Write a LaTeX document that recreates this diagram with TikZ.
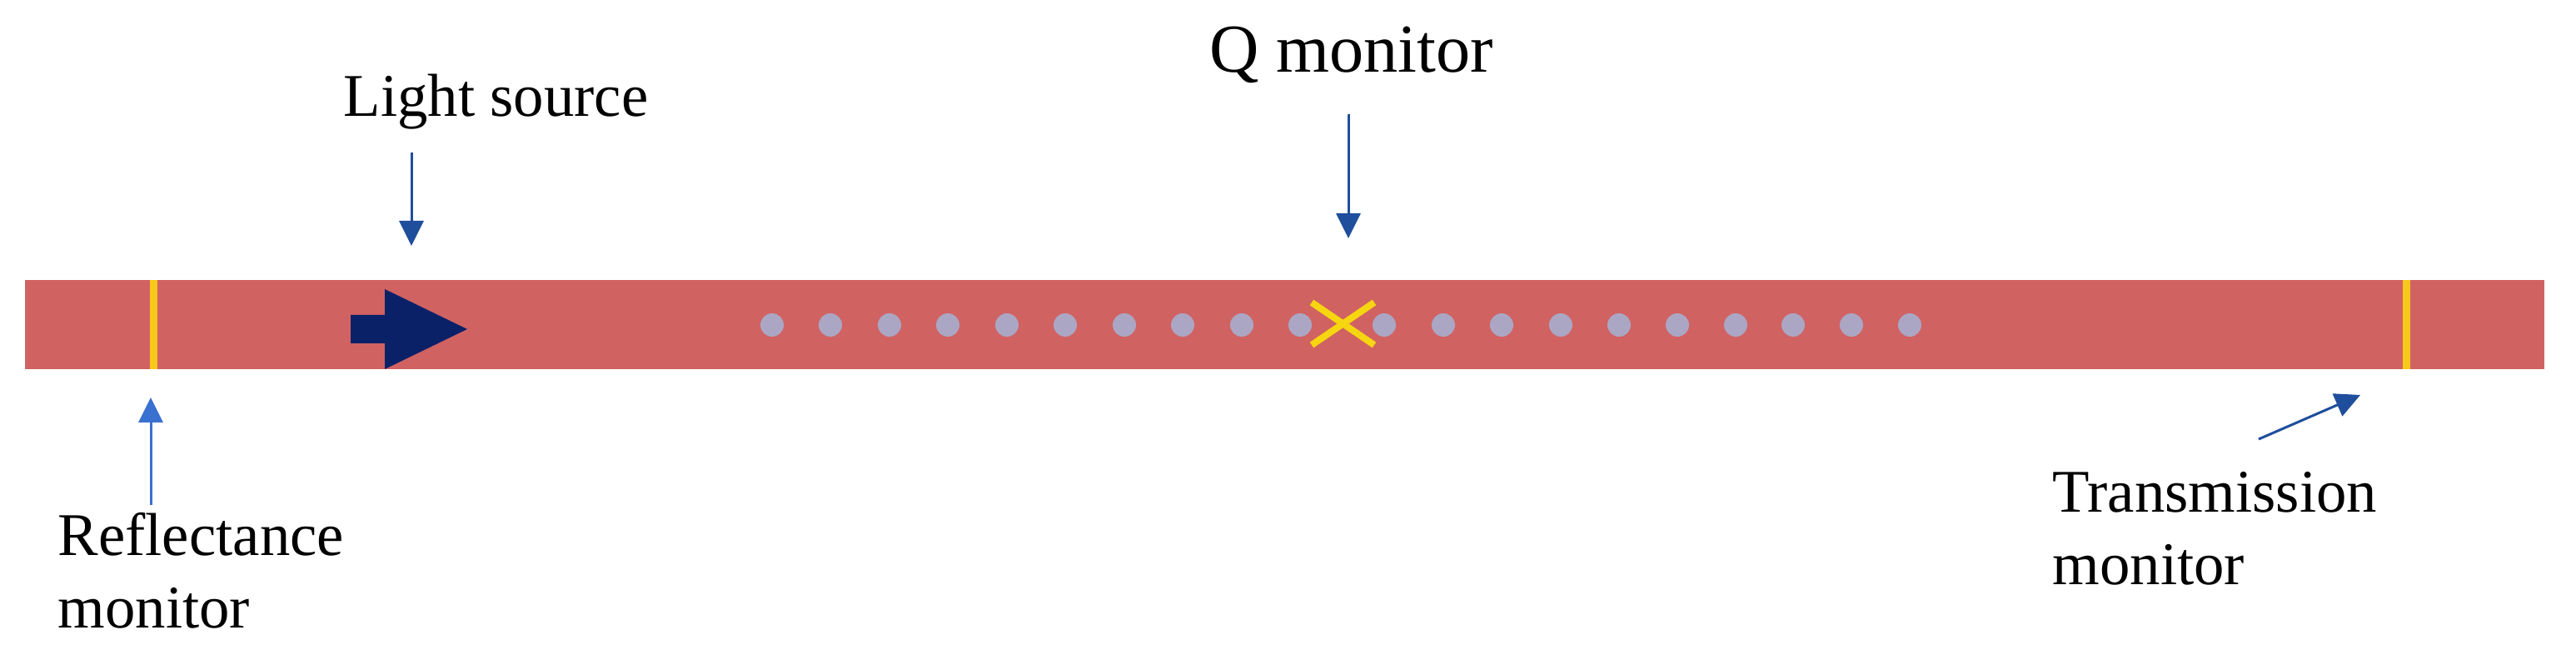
\documentclass[tikz,border=0pt]{standalone}
\usepackage{fontspec}
\setmainfont{Liberation Serif}
\usetikzlibrary{arrows.meta}
\definecolor{guidered}{HTML}{D16262}
\definecolor{monitoryellow}{HTML}{F8C91A}
\definecolor{crossyellow}{HTML}{F6D511}
\definecolor{holegrey}{HTML}{ABA6C4}
\definecolor{sourcenavy}{HTML}{0A2168}
\definecolor{pointerblue}{HTML}{1F4E9C}
\definecolor{pointerlight}{HTML}{3A70D0}
\tikzset{
	lbl/.style={inner sep=0, anchor=base west, align=left, font=\fontsize{20.7}{24.9}\selectfont},
	pointer/.style={line width=0.03cm, color=pointerblue, -{Triangle[width=0.29cm, length=0.3cm]}},
	hole/.style={fill=holegrey, draw=none},
	monitorline/.style={line width=0.09cm, color=monitoryellow},
	crossline/.style={line width=0.08cm, color=crossyellow}
}

\begin{document}
\begin{tikzpicture}
	%%%%% START %%%%%
	\useasboundingbox (0, 0) rectangle (30.93, 7.86);
	
	\fill[guidered] (0.30, 3.43) rectangle (30.55, 4.50);
	
	\draw[monitorline] (1.84, 3.43) -- (1.84, 4.50);
	\draw[monitorline] (28.89, 3.43) -- (28.89, 4.50);
	
	\fill[hole] (9.27, 3.96) circle (0.14);
	\fill[hole] (9.97, 3.96) circle (0.14);
	\fill[hole] (10.68, 3.96) circle (0.14);
	\fill[hole] (11.38, 3.96) circle (0.14);
	\fill[hole] (12.09, 3.96) circle (0.14);
	\fill[hole] (12.79, 3.96) circle (0.14);
	\fill[hole] (13.50, 3.96) circle (0.14);
	\fill[hole] (14.20, 3.96) circle (0.14);
	\fill[hole] (14.91, 3.96) circle (0.14);
	\fill[hole] (15.61, 3.96) circle (0.14);
	
	\fill[hole] (16.62, 3.96) circle (0.14);
	\fill[hole] (17.33, 3.96) circle (0.14);
	\fill[hole] (18.03, 3.96) circle (0.14);
	\fill[hole] (18.74, 3.96) circle (0.14);
	\fill[hole] (19.44, 3.96) circle (0.14);
	\fill[hole] (20.14, 3.96) circle (0.14);
	\fill[hole] (20.84, 3.96) circle (0.14);
	\fill[hole] (21.53, 3.96) circle (0.14);
	\fill[hole] (22.23, 3.96) circle (0.14);
	\fill[hole] (22.93, 3.96) circle (0.14);
	
	\draw[crossline] (15.75, 3.72) -- (16.50, 4.23);
	\draw[crossline] (15.75, 4.23) -- (16.50, 3.72);
	
	\fill[sourcenavy] (4.21, 3.74) -- (4.62, 3.74) -- (4.62, 3.43) -- (5.61, 3.91) -- (4.62, 4.39) -- (4.62, 4.08) -- (4.21, 4.08) -- cycle;
	
	\node[lbl] (lightlabel) at (4.12, 6.46) {Light source};
	\node[lbl, font=\fontsize{23.4}{28}\selectfont] (qlabel) at (14.52, 6.99) {Q monitor};
	\node[lbl] (reflectlabel) at (0.69, 0.32) {Reflectance\\monitor};
	\node[lbl] (translabel) at (24.64, 0.84) {Transmission\\monitor};
	
	\coordinate (lightstart) at (4.94, 6.03);
	\coordinate (lightend) at (4.94, 4.91);
	\coordinate (qstart) at (16.19, 6.49);
	\coordinate (qend) at (16.19, 5.00);
	\coordinate (reflectstart) at (1.81, 1.80);
	\coordinate (reflectend) at (1.81, 3.09);
	\coordinate (transstart) at (27.12, 2.59);
	\coordinate (transend) at (28.34, 3.12);
	
	\draw[pointer] (lightstart) -- (lightend);
	\draw[pointer] (qstart) -- (qend);
	\draw[pointer, color=pointerlight] (reflectstart) -- (reflectend);
	\draw[pointer] (transstart) -- (transend);
	%%%%% END %%%%%
\end{tikzpicture}
\end{document}
